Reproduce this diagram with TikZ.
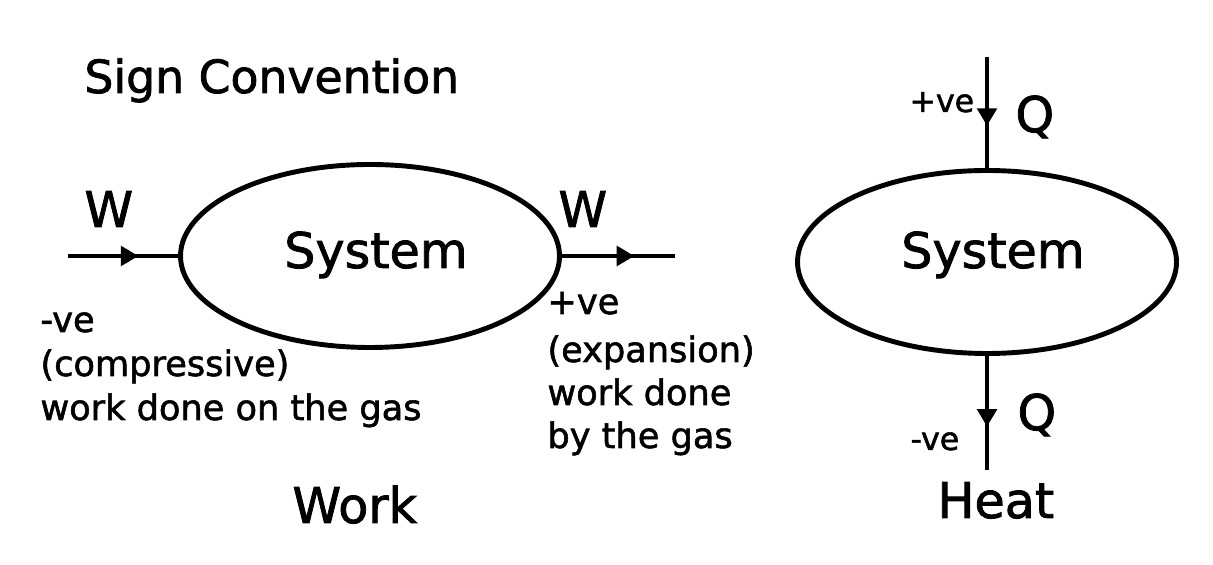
\documentclass[tikz,border=0pt]{standalone}
\usepackage{fontspec}
\setmainfont{DejaVu Sans}[FakeBold=1.6]
\usetikzlibrary{shapes.geometric,arrows.meta,decorations.markings}

\begin{document}
\begin{tikzpicture}[
    line width=2.8pt,
    system/.style={ellipse, draw, line width=2.8pt, minimum width=7.58cm, minimum height=3.66cm, inner sep=0pt, font=\fontsize{28}{32}\selectfont},
    flow/.style={postaction={decorate}, decoration={markings, mark=at position #1 with {\arrow{Triangle[length=10pt,width=11pt]}}}},
    big/.style={anchor=base west, inner sep=0pt, font=\fontsize{28}{32}\selectfont},
    note/.style={anchor=base west, inner sep=0pt, font=\fontsize{20}{25}\selectfont},
    sign/.style={anchor=base west, inner sep=0pt, font=\fontsize{18}{22}\selectfont}
]
    \useasboundingbox (0,0) rectangle (24.26,11.3);

    % Title
    \node[anchor=base west, inner sep=0pt, font=\fontsize{26}{30}\selectfont] (title) at (1.64,9.44) {Sign Convention};

    % Work
    \node[system] (sysw) at (7.40,6.18) {};
    \node[big, anchor=base] (sysw label) at (7.52,5.94) {System};
    \coordinate (win) at (1.36,6.18);
    \coordinate (wout) at (13.50,6.18);
    \draw[flow=0.64] (win) -- (sysw.west);
    \draw[flow=0.64] (sysw.east) -- (wout);
    \node[big] (w1) at (1.64,6.76) {W};
    \node[big] (w2) at (11.12,6.76) {W};

    \node[note] (neg1) at (0.76,4.66) {-ve};
    \node[note] (neg2) at (0.76,3.78) {(compressive)};
    \node[note] (neg3) at (0.76,2.90) {work done on the gas};

    \node[note] (pos1) at (10.90,5.02) {+ve};
    \node[note] (pos2) at (10.90,4.06) {(expansion)};
    \node[note] (pos3) at (10.90,3.20) {work done};
    \node[note] (pos4) at (10.90,2.34) {by the gas};

    \node[big] (work) at (5.80,0.84) {Work};

    % Heat
    \node[system] (sysq) at (19.74,6.06) {};
    \node[big, anchor=base] (sysq label) at (19.86,5.94) {System};
    \coordinate (qin) at (19.74,10.16);
    \coordinate (qout) at (19.74,1.90);
    \draw[flow=0.62] (qin) -- (sysq.north);
    \draw[flow=0.62] (sysq.south) -- (qout);
    \node[sign] (qpos) at (18.14,9.06) {+ve};
    \node[big] (q1) at (20.26,8.66) {Q};
    \node[sign] (qneg) at (18.16,2.30) {-ve};
    \node[big] (q2) at (20.30,2.70) {Q};

    \node[big] (heat) at (18.70,0.94) {Heat};
\end{tikzpicture}
\end{document}
